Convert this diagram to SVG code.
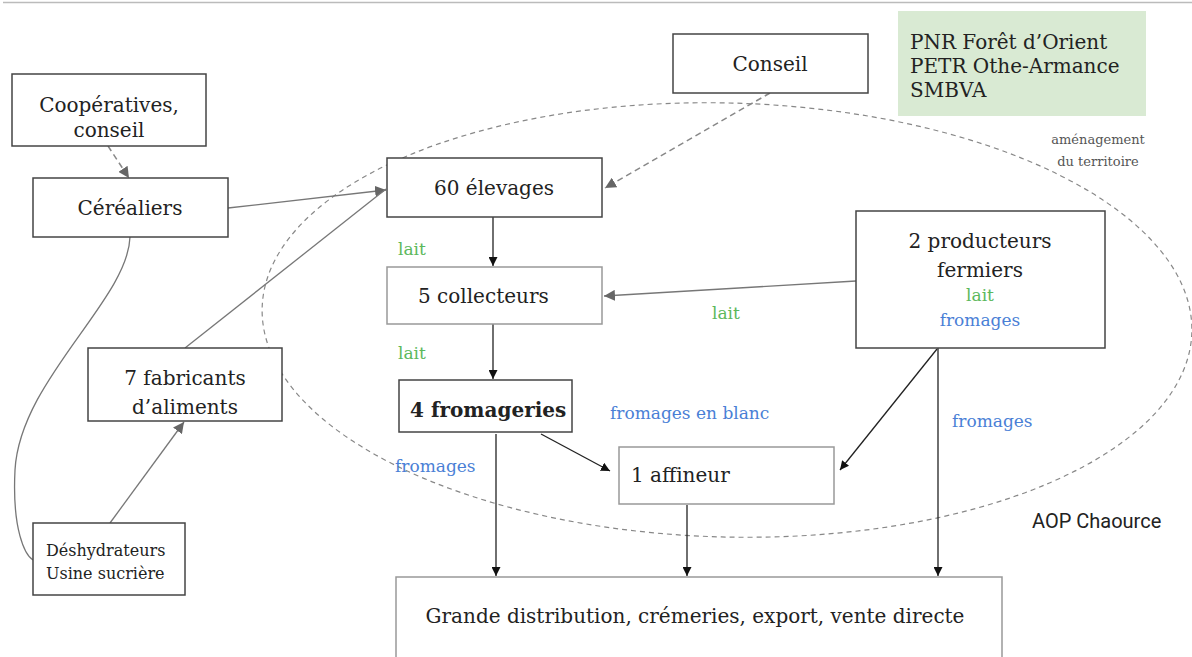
<svg xmlns="http://www.w3.org/2000/svg" width="1192" height="657" viewBox="0 0 1192 657">
<defs>
<style>
.box{fill:#fff;stroke:#444;stroke-width:1.5}
.lbox{fill:#fff;stroke:#999;stroke-width:1.5}
.t{font-family:"DejaVu Serif","Liberation Serif",serif;font-size:20px;fill:#222}
.s{font-family:"DejaVu Serif","Liberation Serif",serif;font-size:16px;fill:#222}
.g{font-family:"DejaVu Serif","Liberation Serif",serif;font-size:17px;fill:#5cb85c}
.b{font-family:"DejaVu Serif","Liberation Serif",serif;font-size:17px;fill:#4a7fd6}
.gr{font-family:"DejaVu Serif","Liberation Serif",serif;font-size:13px;fill:#555}
.dk{stroke:#222;stroke-width:1.3;fill:none}
.lt{stroke:#777;stroke-width:1.3;fill:none}
.ds{stroke:#888;stroke-width:1.5;fill:none;stroke-dasharray:6 4}
</style>
<marker id="ab" viewBox="0 0 10 10" refX="10" refY="5" markerWidth="9" markerHeight="9" markerUnits="userSpaceOnUse" orient="auto"><path d="M0,0 L10,5 L0,10 z" fill="#111"/></marker>
<marker id="ag" viewBox="0 0 10 10" refX="10" refY="5" markerWidth="11" markerHeight="11" markerUnits="userSpaceOnUse" orient="auto"><path d="M0,0 L10,5 L0,10 z" fill="#666"/></marker>
</defs>
<rect width="1192" height="657" fill="#fff"/>
<line x1="3" y1="2.5" x2="1192" y2="2.5" stroke="#bbb" stroke-width="1.5"/>
<ellipse cx="727" cy="320" rx="465" ry="217" fill="none" stroke="#888" stroke-width="1.2" stroke-dasharray="5 4" transform="rotate(1.5 727 320)"/>
<g id="connectors">
<line class="ds" x1="108" y1="146" x2="129" y2="178" marker-end="url(#ag)"/>
<line class="lt" x1="228" y1="208" x2="386" y2="190" marker-end="url(#ag)"/>
<line class="lt" x1="185" y1="348" x2="386" y2="189"/>
<line class="lt" x1="110" y1="523" x2="184" y2="422" marker-end="url(#ag)"/>
<path class="lt" d="M130,237 C128,300 20,380 15,470 C12,530 25,555 33,560"/>
<line class="ds" x1="770" y1="93" x2="605" y2="188" marker-end="url(#ag)"/>
<line class="dk" x1="493" y1="217" x2="493" y2="266" marker-end="url(#ab)"/>
<line class="dk" x1="493" y1="324" x2="493" y2="379" marker-end="url(#ab)"/>
<line class="lt" x1="856" y1="281" x2="604" y2="296" marker-end="url(#ag)"/>
<line class="dk" x1="541" y1="434" x2="610" y2="471" marker-end="url(#ab)"/>
<line class="dk" x1="937" y1="349" x2="840" y2="470" marker-end="url(#ab)"/>
<line class="dk" x1="496" y1="434" x2="496" y2="576" marker-end="url(#ab)"/>
<line class="dk" x1="687" y1="505" x2="687" y2="576" marker-end="url(#ab)"/>
<line class="dk" x1="938" y1="348" x2="938" y2="576" marker-end="url(#ab)"/>
</g>
<g id="cooperatives"><rect class="box" x="12" y="74" width="194" height="72"/><text class="t" x="109" y="112" text-anchor="middle">Coopératives,</text><text class="t" x="109" y="137" text-anchor="middle">conseil</text></g>
<g id="cerealiers"><rect class="box" x="33" y="178" width="195" height="59"/><text class="t" x="130" y="215" text-anchor="middle">Céréaliers</text></g>
<g id="fabricants"><rect class="box" x="88" y="348" width="194" height="73"/><text class="t" x="185" y="385" text-anchor="middle">7 fabricants</text><text class="t" x="185" y="414" text-anchor="middle">d’aliments</text></g>
<g id="deshydrateurs"><rect class="box" x="33" y="523" width="152" height="72"/><text class="s" x="46" y="556">Déshydrateurs</text><text class="s" x="46" y="579">Usine sucrière</text></g>
<g id="elevages"><rect class="box" x="387" y="158" width="215" height="59"/><text class="t" x="494" y="195" text-anchor="middle">60 élevages</text></g>
<g id="collecteurs"><rect class="lbox" x="387" y="267" width="215" height="57"/><text class="t" x="418" y="303">5 collecteurs</text></g>
<g id="fromageries"><rect class="box" x="399" y="380" width="173" height="52"/><text class="t" x="410" y="417" font-size="18" font-weight="bold">4 fromageries</text></g>
<g id="affineur"><rect class="lbox" x="619" y="447" width="215" height="57"/><text class="t" x="631" y="482">1 affineur</text></g>
<g id="conseil"><rect class="box" x="673" y="34" width="195" height="59"/><text class="t" x="770" y="71" text-anchor="middle">Conseil</text></g>
<g id="pnr"><rect x="898" y="11" width="248" height="105" fill="#d9ead3"/><text class="t" font-size="17.5" x="910" y="49">PNR Forêt d’Orient</text><text class="t" font-size="17.5" x="910" y="73">PETR Othe-Armance</text><text class="t" font-size="17.5" x="910" y="97">SMBVA</text></g>
<g id="producteurs"><rect class="box" x="856" y="211" width="249" height="137"/><text class="t" x="980" y="248" text-anchor="middle">2 producteurs</text><text class="t" x="980" y="277" text-anchor="middle">fermiers</text><text class="g" x="980" y="301" text-anchor="middle">lait</text><text class="b" x="980" y="326" text-anchor="middle">fromages</text></g>
<g id="distribution"><rect class="lbox" x="396" y="577" width="606" height="90"/><text class="t" x="695" y="623" text-anchor="middle">Grande distribution, crémeries, export, vente directe</text></g>
<g id="labels">
<text class="g" x="398" y="255">lait</text>
<text class="g" x="398" y="359">lait</text>
<text class="g" x="712" y="319">lait</text>
<text class="b" x="610" y="419" font-size="15">fromages en blanc</text>
<text class="b" x="395" y="472">fromages</text>
<text class="b" x="952" y="427">fromages</text>
<text class="gr" x="1098" y="144" text-anchor="middle">aménagement</text>
<text class="gr" x="1098" y="166" text-anchor="middle">du territoire</text>
<text x="1032" y="528" font-family="Roboto,'DejaVu Sans',sans-serif" font-size="20" fill="#222">AOP Chaource</text>
</g>
</svg>
